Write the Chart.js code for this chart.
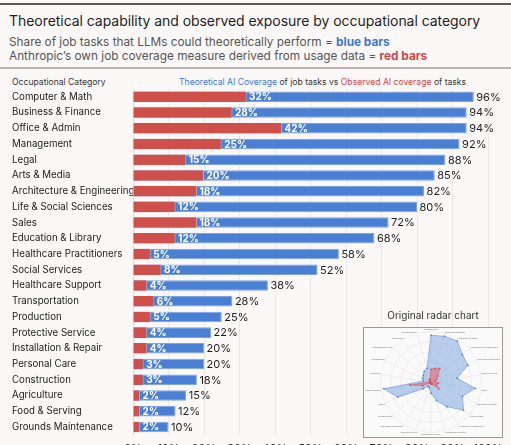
<!DOCTYPE html>
<html>
<head>
<meta charset="utf-8">
<script src="https://cdn.jsdelivr.net/npm/chart.js@4.4.1/dist/chart.umd.min.js"></script>
<style>
  html, body { margin: 0; padding: 0; }
  body { width: 511px; height: 445px; overflow: hidden; background: #fcf8f8; position: relative; font-family: Inter, "Noto Sans", sans-serif; color: #222; }
  .abs { position: absolute; white-space: nowrap; }
  #topline { left: 0; top: 3px; width: 511px; height: 2px; background: #5a5a5a; }
  #title { left: 9px; top: 12px; font-size: 14px; letter-spacing: -0.05px; color: #1e1e1e; }
  .sub { left: 9px; font-size: 11.8px; color: #555; }
  #sep { left: 0; top: 67px; width: 511px; height: 2px; background: #b8b4b4; }
  .hdr { top: 77px; font-size: 8.6px; color: #333; }
  .blue { color: #3a78d8; }
  .red { color: #d24444; }
  #main { left: 0; top: 79px; }
  #radarTitle { left: 363px; top: 309px; width: 140px; text-align: center; font-size: 10px; color: #333; }
  #radarBox { left: 363px; top: 327px; width: 138px; height: 109px; border: 1px solid #999; background: #fafafa; }
</style>
</head>
<body>
<div class="abs" id="topline"></div>
<div class="abs" id="title">Theoretical capability and observed exposure by occupational category</div>
<div class="abs sub" style="top:35px">Share of job tasks that LLMs could theoretically perform = <b class="blue">blue bars</b></div>
<div class="abs sub" style="top:49px">Anthropic’s own job coverage measure derived from usage data = <b class="red">red bars</b></div>
<div class="abs" id="sep"></div>
<div class="abs hdr" style="left:12px">Occupational Category</div>
<div class="abs hdr" style="left:179px"><span class="blue">Theoretical AI Coverage</span> of job tasks vs <span class="red">Observed AI coverage</span> of tasks</div>
<canvas class="abs" id="main" width="511" height="383"></canvas>
<div class="abs" id="radarTitle">Original radar chart</div>
<div class="abs" id="radarBox"><canvas id="radar" width="138" height="109"></canvas></div>
<script>
var categories = ["Computer & Math", "Business & Finance", "Office & Admin", "Management", "Legal",
    "Arts & Media", "Architecture & Engineering", "Life & Social Sciences", "Sales", "Education & Library",
    "Healthcare Practitioners", "Social Services", "Healthcare Support", "Transportation", "Production",
    "Protective Service", "Installation & Repair", "Personal Care", "Construction", "Agriculture",
    "Food & Serving", "Grounds Maintenance"];
var theoretical = [96, 94, 94, 92, 88, 85, 82, 80, 72, 68, 58, 52, 38, 28, 25, 22, 20, 20, 18, 15, 12, 10];
var observed = [32, 28, 42, 25, 15, 20, 18, 12, 18, 12, 5, 8, 4, 6, 5, 4, 4, 3, 3, 2, 2, 2];

// order of the spokes in the small radar picture, clockwise from the top
var radarLabels = ["Management", "Business & finance", "Computer & math", "Architecture & engineering",
    "Life & social sciences", "Social services", "Legal", "Education & library", "Arts & media",
    "Healthcare practitioners", "Healthcare support", "Protective service", "Food & serving",
    "Grounds maintenance", "Personal care", "Sales", "Office & admin", "Agriculture", "Construction",
    "Installation & repair", "Production", "Transportation"];

var blue = "#4a80d4";
var red = "#cf4f4b";

var barLabels = {
    id: "barLabels",
    afterDatasetsDraw: function (chart) {
        let ctx = chart.ctx;
        let redMeta = chart.getDatasetMeta(0);
        let blueMeta = chart.getDatasetMeta(1);
        ctx.save();
        ctx.textBaseline = "middle";
        ctx.textAlign = "left";
        for (let i = 0; i < categories.length; i++) {
            let r = redMeta.data[i];
            let b = blueMeta.data[i];
            ctx.fillStyle = "#ffffff";
            ctx.font = "bold 10px Inter, sans-serif";
            ctx.fillText(observed[i] + "%", r.x + 2.5, r.y + 0.5);
            ctx.fillStyle = "#1e1e1e";
            ctx.font = "11px Inter, sans-serif";
            ctx.fillText(theoretical[i] + "%", b.x + 2.5, b.y + 0.5);
        }
        ctx.restore();
    }
};

var main = new Chart(document.getElementById("main"), {
    type: "bar",
    data: {
        labels: categories,
        datasets: [
            { label: "Observed", data: observed, backgroundColor: red, borderColor: "#e7a3a0",
              borderWidth: { right: 1 }, borderSkipped: false, categoryPercentage: 1, barPercentage: 0.67 },
            { label: "Theoretical", data: theoretical, backgroundColor: blue, borderColor: "#7da4e2",
              borderWidth: 1, categoryPercentage: 1, barPercentage: 0.67 }
        ]
    },
    options: {
        indexAxis: "y",
        responsive: false,
        animation: false,
        layout: { padding: { left: 12, top: 10, right: 23, bottom: 0 } },
        plugins: { legend: { display: false }, tooltip: { enabled: false } },
        scales: {
            x: {
                min: 0, max: 100,
                ticks: { stepSize: 10, padding: 7, color: "#333", font: { family: "Inter", size: 11 },
                    callback: function (v) { return v + "%"; } },
                grid: { color: "#ece7e7", drawTicks: false },
                border: { display: false }
            },
            y: {
                stacked: true,
                afterFit: function (scale) { scale.width = 121; },
                ticks: { autoSkip: false, crossAlign: "far", padding: 3, color: "#222",
                    font: { family: "Inter", size: 9.7 } },
                grid: { display: false },
                border: { color: "#dcd8d8" }
            }
        }
    },
    plugins: [barLabels]
});

var lookup = {};
categories.forEach(function (c, i) { lookup[c.toLowerCase()] = i; });
var radarTheo = radarLabels.map(function (l) { return theoretical[lookup[l.toLowerCase()]]; });
var radarObs = radarLabels.map(function (l) { return observed[lookup[l.toLowerCase()]]; });

var radar = new Chart(document.getElementById("radar"), {
    type: "radar",
    data: {
        labels: radarLabels,
        datasets: [
            { data: radarObs, backgroundColor: "rgba(235,95,100,0.55)", borderColor: "rgba(220,70,75,0.9)",
              borderWidth: 0.5, pointRadius: 0.6, pointBackgroundColor: "#d04a4f" },
            { data: radarTheo, backgroundColor: "rgba(100,150,220,0.45)", borderColor: "rgba(70,120,200,0.9)",
              borderWidth: 0.5, pointRadius: 0.6, pointBackgroundColor: "#4a78c8" }
        ]
    },
    options: {
        responsive: false,
        animation: false,
        layout: { padding: 0 },
        plugins: { legend: { display: false }, tooltip: { enabled: false } },
        scales: {
            r: {
                min: 0, max: 100,
                ticks: { display: false, stepSize: 20 },
                grid: { color: "#e2e2e2", lineWidth: 0.5 },
                angleLines: { color: "#e2e2e2", lineWidth: 0.5 },
                pointLabels: { font: { size: 2.4 }, color: "#666", padding: 0 }
            }
        }
    }
});
</script>
</body>
</html>
